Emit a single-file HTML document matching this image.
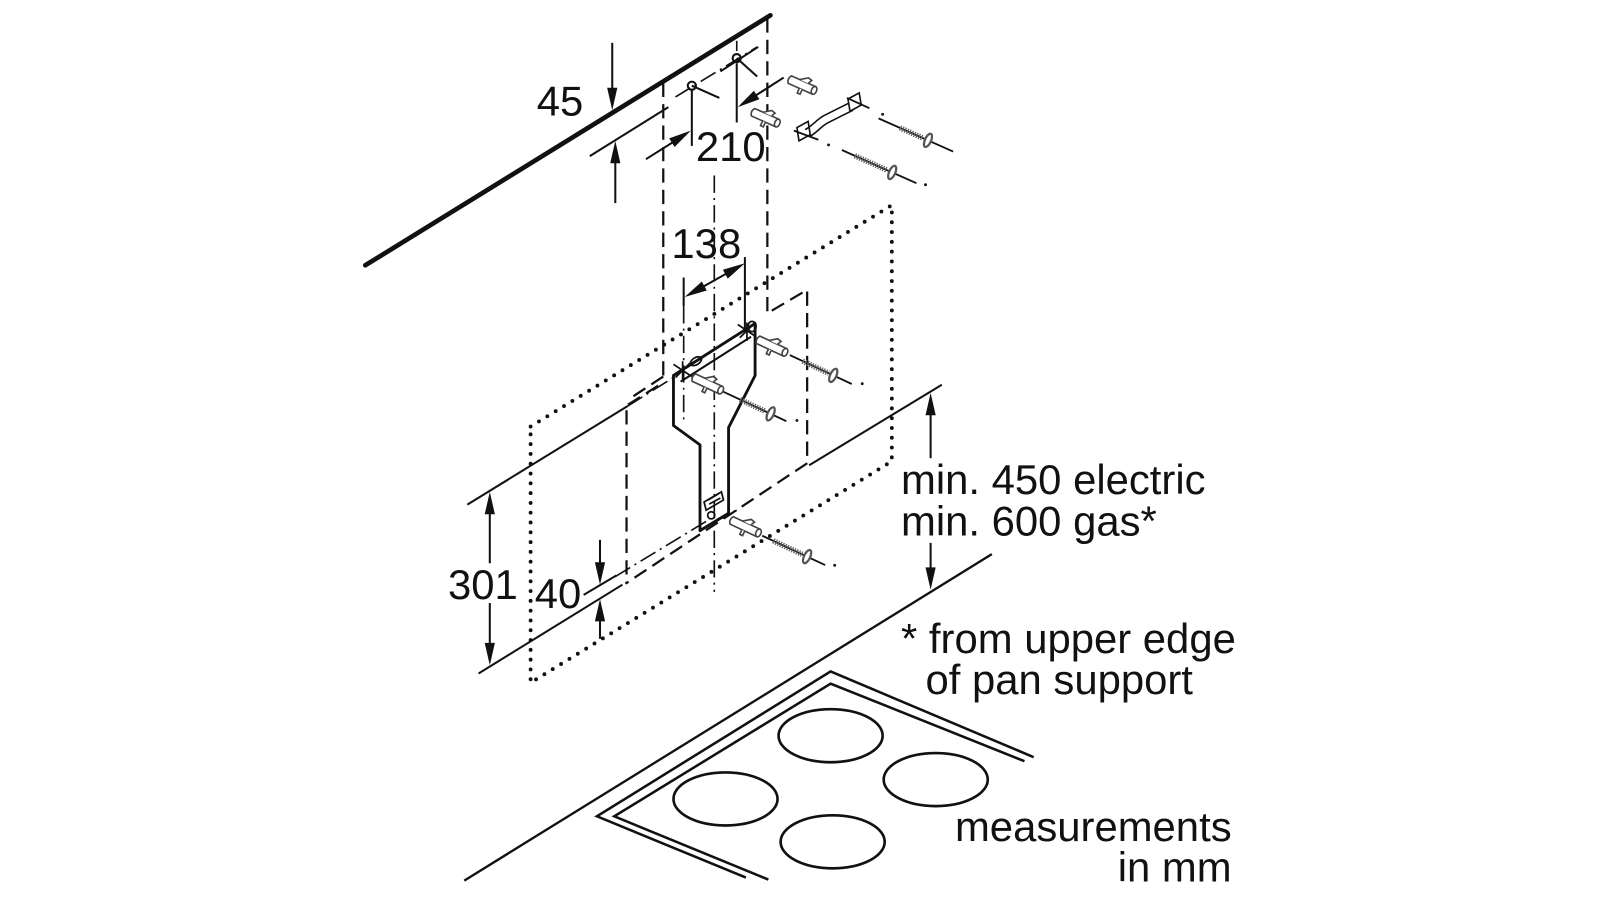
<!DOCTYPE html>
<html><head><meta charset="utf-8"><style>
html,body{margin:0;padding:0;background:#fff;}
svg{display:block;}
text{font-family:"Liberation Sans",Arial,sans-serif;fill:#111;font-size:41px;}
</style></head><body>
<svg width="1600" height="900" viewBox="0 0 1568 882" preserveAspectRatio="none" xmlns="http://www.w3.org/2000/svg">
<rect x="0" y="0" width="1568" height="882" fill="#fff"/>
<g fill="none" stroke="#111">
<!-- wall -->
<line x1="358" y1="260" x2="755" y2="15" stroke-width="4.6" stroke-linecap="round"/>

<!-- dotted rectangle -->
<path d="M520,418 L874,201 L874,452 L520,669 Z" stroke-width="3.8" stroke-linecap="round" stroke-dasharray="0 9.6"/>

<!-- dashed chimney outline -->
<g stroke-width="2.2" stroke-dasharray="14 7">
<path d="M650,81 V369"/>
<path d="M650,369 L615,392"/>
<path d="M645,378 L610,400"/>
<path d="M614,402 V572"/>
<path d="M752,18 V307 L791,284 V454"/>
<path d="M791,454 L613,572"/>
</g>

<!-- dash-dot centre lines -->
<g stroke-width="1.6" stroke-dasharray="17 5 2 5">
<path d="M700,172 V580"/>
<path d="M670,300 V414"/>
<path d="M662,95 L742,46"/>
<path d="M615,398 L660,370"/>
<path d="M603,565 L692,511"/>
<path d="M722,40 V50"/>
</g>

<!-- thin solid dimension lines -->
<g stroke-width="2">
<line x1="578" y1="153" x2="655" y2="105"/>
<line x1="600" y1="42" x2="600" y2="92"/>
<line x1="603" y1="154" x2="603" y2="199"/>
<line x1="678" y1="88" x2="678" y2="143"/>
<line x1="722" y1="62" x2="722" y2="120"/>
<line x1="633" y1="156" x2="660" y2="139"/>
<line x1="768" y1="76" x2="740" y2="94"/>
<line x1="689" y1="281" x2="712" y2="268"/>
<line x1="730" y1="252" x2="730" y2="322"/>
<line x1="670" y1="272" x2="670" y2="300"/>
<!-- 301 lines -->
<line x1="458" y1="494.5" x2="615" y2="398"/>
<line x1="469" y1="660" x2="610" y2="573"/>
<line x1="572" y1="583" x2="604" y2="564"/>
<line x1="480" y1="500" x2="480" y2="552"/>
<line x1="480" y1="591" x2="480" y2="634"/>
<line x1="588" y1="529" x2="588" y2="555"/>
<line x1="588" y1="604" x2="588" y2="626"/>
<!-- min 450 -->
<line x1="793" y1="456" x2="923" y2="377"/>
<line x1="912" y1="400" x2="912" y2="449"/>
<line x1="912" y1="532" x2="912" y2="562"/>
<!-- hole crosses -->
<line x1="678" y1="84" x2="705" y2="96"/>
<line x1="722" y1="57" x2="742" y2="75"/>
<line x1="706" y1="70" x2="743" y2="46"/>
</g>
<circle cx="678" cy="84" r="4" stroke-width="2"/>
<circle cx="722" cy="57" r="4" stroke-width="2"/>

<!-- hob back line -->
<line x1="455" y1="863" x2="972" y2="543" stroke-width="2.3"/>
<!-- hob frame -->
<g stroke-width="2.5" stroke-linejoin="miter">
<path d="M1013,742 L814,658 L585,800 L731,860"/>
<path d="M1004,746 L814,670 L602,800 L753,862"/>
</g>
<!-- burners -->
<g stroke-width="2.6">
<ellipse cx="814" cy="721" rx="51" ry="26"/>
<ellipse cx="711" cy="783" rx="51" ry="26"/>
<ellipse cx="917" cy="764" rx="51" ry="26"/>
<ellipse cx="816" cy="825" rx="51" ry="26"/>
</g>

<!-- bracket -->
<path d="M660,368 L740,317 L740,368 L714,419 L714,503 L686,520 L686,436 L660,417 Z" stroke-width="2.8" stroke-linejoin="round"/>
<line x1="667" y1="374" x2="736" y2="330" stroke-width="2"/>
<g stroke-width="1.7">
<path d="M660,357 L678,369 M662,370 L676,356 M669,354 V372"/>
<path d="M723,318 L741,330 M725,331 L739,317 M732,316 V334"/>
<ellipse cx="682" cy="354" rx="6" ry="3.5" transform="rotate(-32 682 354)"/>
<ellipse cx="737" cy="320" rx="4" ry="5"/>
<path d="M690,492 L707,482 L709,490 L692,500 Z"/>
<path d="M694,490 L704,484 M695,494 L706,488"/>
<circle cx="697" cy="505" r="3.5"/>
<line x1="708" y1="508" x2="722" y2="500"/>
</g>
</g>

<!-- arrowheads -->
<g fill="#111" stroke="none">
<polygon points="600,108 595,86 605,86"/>
<polygon points="603,138 598,160 608,160"/>
<polygon points="677,128 661.1,144.0 655.8,135.6"/>
<polygon points="723,105 744.2,97.3 738.8,88.9"/>
<polygon points="730,258 713.2,273.1 708.4,264.3"/>
<polygon points="671,291 692.6,284.7 687.8,275.9"/>
<polygon points="480,482 475,504 485,504"/>
<polygon points="480,652 475,630 485,630"/>
<polygon points="588,573 583,551 593,551"/>
<polygon points="588,587 583,609 593,609"/>
<polygon points="912,385 907,407 917,407"/>
<polygon points="912,578 907,556 917,556"/>
</g>

<!-- plugs -->
<g fill="#fff" stroke="#444" stroke-width="1.6">
<g transform="translate(774,78) rotate(24)"><path d="M0,-4 L26,-4 L26,4 L0,4 Q-3,0 0,-4 Z"/><ellipse cx="26" cy="0" rx="2.5" ry="4"/><path d="M9,-4 L16,-9 L20,-8 L18,-4 M12,4 L12,9 L15,9 L15,4"/></g>
<g transform="translate(738,110) rotate(24)"><path d="M0,-4 L26,-4 L26,4 L0,4 Q-3,0 0,-4 Z"/><ellipse cx="26" cy="0" rx="2.5" ry="4"/><path d="M9,-4 L16,-9 L20,-8 L18,-4 M12,4 L12,9 L15,9 L15,4"/></g>
<g transform="translate(743,333) rotate(25)"><path d="M0,-4 L29,-4 L29,4 L0,4 Q-3,0 0,-4 Z"/><ellipse cx="29" cy="0" rx="2.5" ry="4"/><path d="M10,-4 L17,-9 L21,-8 L19,-4 M13,4 L13,9 L16,9 L16,4"/></g>
<g transform="translate(680,370) rotate(25)"><path d="M0,-4 L29,-4 L29,4 L0,4 Q-3,0 0,-4 Z"/><ellipse cx="29" cy="0" rx="2.5" ry="4"/><path d="M10,-4 L17,-9 L21,-8 L19,-4 M13,4 L13,9 L16,9 L16,4"/></g>
<g transform="translate(717,510) rotate(25)"><path d="M0,-4 L29,-4 L29,4 L0,4 Q-3,0 0,-4 Z"/><ellipse cx="29" cy="0" rx="2.5" ry="4"/><path d="M10,-4 L17,-9 L21,-8 L19,-4 M13,4 L13,9 L16,9 L16,4"/></g>
</g>

<!-- screws -->
<g stroke="#111" fill="none">
<g transform="translate(861,116) rotate(24)"><line x1="0" y1="0" x2="80" y2="0" stroke-width="1.8"/><line x1="23" y1="0" x2="48" y2="0" stroke="#666" stroke-width="5.5" stroke-dasharray="1.3 1.2"/><ellipse cx="53" cy="0" rx="3" ry="7" stroke="#555" stroke-width="2.2" fill="#fff"/></g>
<g transform="translate(825,147) rotate(24)"><line x1="0" y1="0" x2="80" y2="0" stroke-width="1.8"/><line x1="14" y1="0" x2="48" y2="0" stroke="#666" stroke-width="5.5" stroke-dasharray="1.3 1.2"/><ellipse cx="54" cy="0" rx="3" ry="7" stroke="#555" stroke-width="2.2" fill="#fff"/></g>
<g transform="translate(774,348) rotate(25)"><line x1="0" y1="0" x2="67" y2="0" stroke-width="1.8"/><line x1="14" y1="0" x2="42" y2="0" stroke="#666" stroke-width="5.5" stroke-dasharray="1.3 1.2"/><ellipse cx="47" cy="0" rx="3" ry="7" stroke="#555" stroke-width="2.2" fill="#fff"/></g>
<g transform="translate(709,384) rotate(25)"><line x1="0" y1="0" x2="68" y2="0" stroke-width="1.8"/><line x1="18" y1="0" x2="45" y2="0" stroke="#666" stroke-width="5.5" stroke-dasharray="1.3 1.2"/><ellipse cx="51" cy="0" rx="3" ry="7" stroke="#555" stroke-width="2.2" fill="#fff"/></g>
<g transform="translate(747,525) rotate(25)"><line x1="0" y1="0" x2="68" y2="0" stroke-width="1.8"/><line x1="12" y1="0" x2="43" y2="0" stroke="#666" stroke-width="5.5" stroke-dasharray="1.3 1.2"/><ellipse cx="48.5" cy="0" rx="3" ry="7" stroke="#555" stroke-width="2.2" fill="#fff"/></g>
<!-- Z bracket -->
<g stroke-width="1.6" fill="#fff">
<path d="M831,97 L842,91 L844,103 L833,109 Z"/>
<path d="M781,125 L792,119 L794,132 L783,138 Z"/>
</g>
<path d="M789,127 C797,123 800,117 808,113 L832,101 M793,134 C801,130 804,124 812,120 L836,108" stroke-width="1.6"/>
<line x1="830" y1="96" x2="852" y2="106" stroke-width="1.8"/>
<line x1="778" y1="128" x2="802" y2="137" stroke-width="1.8"/>
</g>
<g fill="#111">
<circle cx="865" cy="112" r="1.4"/>
<circle cx="812" cy="142" r="1.4"/>
<circle cx="907" cy="181" r="1.4"/>
<circle cx="845" cy="376" r="1.4"/>
<circle cx="781" cy="412" r="1.4"/>
<circle cx="818" cy="554" r="1.4"/>
</g>

<!-- text -->
<text x="526" y="113">45</text>
<text x="682" y="158">210</text>
<text x="658" y="253">138</text>
<text x="439" y="587">301</text>
<text x="524" y="596">40</text>
<text x="883" y="484">min. 450 electric</text>
<text x="883" y="525">min. 600 gas*</text>
<text x="883" y="640">* from upper edge</text>
<text x="907" y="680">of pan support</text>
<text x="1207" y="824" text-anchor="end">measurements</text>
<text x="1207" y="864" text-anchor="end">in mm</text>
</svg>
</body></html>
